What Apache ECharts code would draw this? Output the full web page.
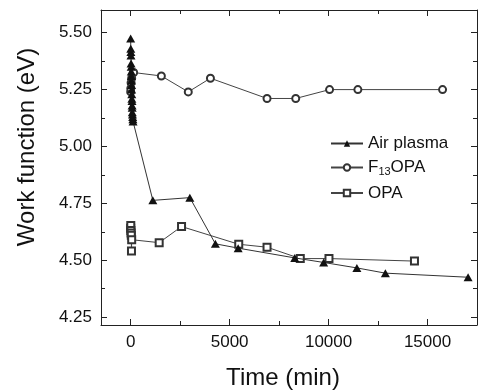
<!DOCTYPE html>
<html>
<head>
<meta charset="utf-8">
<script src="https://cdn.jsdelivr.net/npm/echarts@6/dist/echarts.min.js"></script>
<style>
	html, body { margin: 0; padding: 0; background: #fff; }
	#chart { width: 478px; height: 392px; }
</style>
</head>
<body>
<div id="chart"></div>
<script>
// Air plasma (filled triangles)
var airTime = [0, 5, 10, 15, 20, 25, 30, 35, 40, 45, 50, 55, 60, 65, 70, 75, 80, 90, 100, 110, 120, 1120, 2990, 4280, 5430, 8290, 9750, 11430, 12870, 17050];
var airWF = [5.475, 5.43, 5.415, 5.40, 5.365, 5.35, 5.33, 5.31, 5.29, 5.27, 5.25, 5.23, 5.21, 5.20, 5.18, 5.17, 5.15, 5.14, 5.13, 5.12, 5.11, 4.763, 4.775, 4.572, 4.553, 4.51, 4.49, 4.466, 4.443, 4.425];

// F13OPA (open circles)
var f13Time = [0, 5, 20, 50, 150, 1550, 2910, 4030, 6890, 8340, 10050, 11480, 15760];
var f13WF = [5.24, 5.255, 5.28, 5.30, 5.325, 5.31, 5.24, 5.30, 5.211, 5.211, 5.25, 5.25, 5.25];

// OPA (open squares)
var opaTime = [0, 5, 10, 20, 30, 40, 50, 1440, 2570, 5460, 6890, 8570, 10020, 14340];
var opaWF = [4.64, 4.653, 4.63, 4.62, 4.61, 4.54, 4.59, 4.577, 4.648, 4.57, 4.557, 4.507, 4.507, 4.496];

var xMajor = [0, 5000, 10000, 15000];
var xMinor = [2500, 7500, 12500];
var yMajor = [4.25, 4.5, 4.75, 5.0, 5.25, 5.5];
var yMinor = [4.375, 4.625, 4.875, 5.125, 5.375];

var FONT = '"Liberation Sans", Arial, sans-serif';

function pairs(xs, ys) {
	var out = [];
	for (var i = 0; i < xs.length; i++) {
		out.push([xs[i], ys[i]]);
	}
	return out;
}

function xAx(pos, ticks, len, showLine, showLabel) {
	return {
		type: 'value', position: pos, min: -1500, max: 17500,
		splitLine: { show: false },
		axisLine: { show: showLine, onZero: false, lineStyle: { color: '#222', width: 1 } },
		axisTick: { show: true, inside: true, length: len, customValues: ticks, lineStyle: { color: '#222', width: 1 } },
		axisLabel: {
			show: showLabel, customValues: ticks, margin: 9, color: '#111', fontSize: 17, fontFamily: FONT,
			formatter: function(v) { return String(v); }
		}
	};
}

function yAx(pos, ticks, len, showLine, showLabel) {
	return {
		type: 'value', position: pos, min: 4.215, max: 5.6,
		splitLine: { show: false },
		axisLine: { show: showLine, onZero: false, lineStyle: { color: '#222', width: 1 } },
		axisTick: { show: true, inside: true, length: len, customValues: ticks, lineStyle: { color: '#222', width: 1 } },
		axisLabel: {
			show: showLabel, customValues: ticks, margin: 9, color: '#111', fontSize: 17, fontFamily: FONT,
			formatter: function(v) { return v.toFixed(2); }
		}
	};
}

var chart = echarts.init(document.getElementById('chart'));

var option = {
	animation: false,
	backgroundColor: '#fff',
	grid: { left: 101, right: 1, top: 10, bottom: 67 },
	xAxis: [
		xAx('bottom', xMajor, 6, true, true),
		xAx('bottom', xMinor, 4, false, false),
		xAx('top', xMajor, 6, true, false),
		xAx('top', xMinor, 4, false, false)
	],
	yAxis: [
		yAx('left', yMajor, 6, true, true),
		yAx('left', yMinor, 4, false, false),
		yAx('right', yMajor, 6, true, false),
		yAx('right', yMinor, 4, false, false)
	],
	legend: {
		orient: 'vertical',
		left: 325,
		top: 130,
		padding: 5,
		itemWidth: 32,
		itemHeight: 8,
		itemGap: 7,
		textStyle: {
			color: '#111', fontSize: 17, fontFamily: FONT,
			rich: {
				a: { fontSize: 17, fontFamily: FONT, color: '#111' },
				s: { fontSize: 11, fontFamily: FONT, color: '#111', padding: [9, 0, 0, 0] }
			}
		},
		formatter: function(name) {
			if (name === 'F13OPA') {
				return '{a|F}{s|13}{a|OPA}';
			}
			return name;
		},
		data: ['Air plasma', 'F13OPA', 'OPA']
	},
	graphic: [
		{
			type: 'text', x: 27, y: 147, rotation: Math.PI / 2,
			style: { text: 'Work function (eV)', fontSize: 24, fontFamily: FONT, fill: '#111', align: 'center', verticalAlign: 'middle' }
		},
		{
			type: 'text', x: 283, y: 378,
			style: { text: 'Time (min)', fontSize: 24, fontFamily: FONT, fill: '#111', align: 'center', verticalAlign: 'middle' }
		}
	],
	series: [
		{
			name: 'Air plasma', type: 'line',
			data: pairs(airTime, airWF),
			symbol: 'triangle', symbolSize: [9, 8],
			lineStyle: { color: '#333', width: 1 },
			itemStyle: { color: '#111' },
			z: 3
		},
		{
			name: 'F13OPA', type: 'line',
			data: pairs(f13Time, f13WF),
			symbol: 'emptyCircle', symbolSize: 7,
			lineStyle: { color: '#444', width: 1 },
			itemStyle: { color: '#333', borderWidth: 1 },
			z: 2
		},
		{
			name: 'OPA', type: 'line',
			data: pairs(opaTime, opaWF),
			symbol: 'emptyRect', symbolSize: 7,
			lineStyle: { color: '#444', width: 1 },
			itemStyle: { color: '#333', borderWidth: 1 },
			z: 2
		}
	]
};

chart.setOption(option);
</script>
</body>
</html>
